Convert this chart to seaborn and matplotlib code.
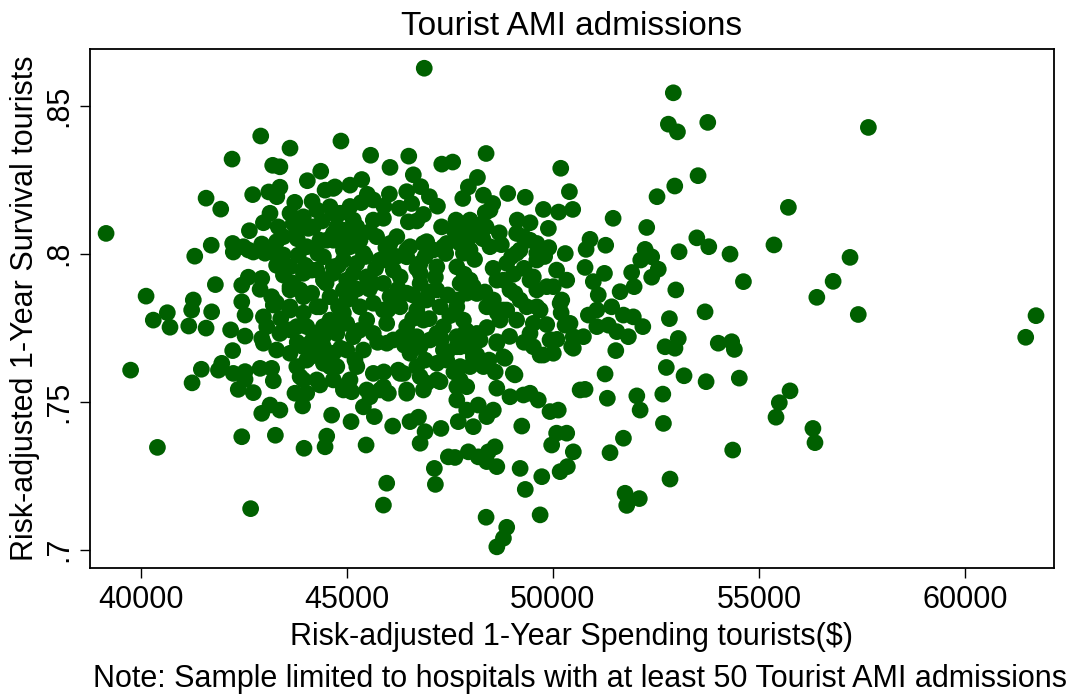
import matplotlib
matplotlib.use("Agg")
import matplotlib.pyplot as plt
import seaborn as sns
import pandas as pd

# Risk-adjusted 1-year spending ($) per hospital
spending = [
    # upper-left cluster
    42915, 43625, 42220, 43205, 43380, 44370, 44045, 44860, 42720, 43110,
    43380, 41590, 41945, 43740, 44160, 44475, 44675, 39165, 42640, 42980,
    43140, 43305, 43625, 43950, 44190, 43790, 43465, 41715, 41315, 42235,
    42250, 42495, 42735, 42940, 43180, 43465, 43300, 43825, 44030, 44350,
    44435, 41815, 40135, 40650, 40310, 41280, 41240, 41725, 42455, 42615,
    42940, 42900, 42455, 42535, 42980, 43260, 43465, 43625, 43950, 44150,
    44435, 43950, 43625, 44350, 44595, 44515, 44760, 44595,
    # lower-left cluster
    40715, 41170, 41590, 39760, 40410, 42670, 41475, 41250, 41970, 41890,
    42235, 42185, 42535, 42940, 42250, 42535, 42535, 42370, 42735, 42900,
    43180, 43220, 42940, 43140, 43380, 42455, 43270, 43745, 43930, 43965,
    44475, 44515, 44635, 44350, 43950, 43300, 42980, 43380, 43625, 44030,
    44110, 44435, 44595, 43790, 44030, 44595, 44675, 43625, 44275, 43300,
    43625, 44350,
    # upper-middle
    46880, 45580, 46505, 46050, 46615, 47305, 47570, 48380, 50190, 50400,
    50480, 50140, 49770, 48905, 49330, 48170, 47950, 47815, 48315, 48540,
    48360, 48155, 48380, 47650, 47790, 48475, 49135, 49445, 49890, 49120,
    49445, 49610, 49120, 48880, 50090, 50335, 49525, 49850, 50215, 49080,
    44715, 45080, 45365, 45350, 45645, 46035, 46455, 46795, 47005, 46575,
    46275, 46860, 46495, 45890, 45565, 45245, 44840, 44920, 46215, 46535,
    46940, 47345, 47750, 47990, 46455, 45890, 45405, 45080, 44675, 44675,
    45160, 45645, 46295, 46780, 47185, 47670, 47990, 48155, 47670, 46940,
    46215, 45645, 45000, 48395, 48800,
    # lower-middle
    48640, 48800, 48880, 48380, 49690, 45890, 45970, 47150, 47125, 49330,
    49730, 49205, 50175, 50350, 50495, 49970, 50090, 50335, 49245, 48640,
    48395, 48595, 48435, 48190, 47950, 47625, 47465, 45470, 45105, 45670,
    46115, 46535, 46740, 46900, 46780, 47285, 47705, 48070, 48190, 48555,
    48395, 47910, 47670, 47185, 46860, 46455, 46010, 46250, 45120, 45405,
    48640, 48960, 49285, 49645, 49930, 50130, 49080, 48840, 48640, 48315,
    48155, 47990, 47750, 47750, 49770, 50010, 49525, 49445, 49970, 50295,
    50455, 50660, 49690, 49365, 50175, 48800, 46375, 46780, 45810, 45565,
    45080, 44760, 45970, 46535, 47020, 47425, 47670, 48155,
    # upper-right
    52920, 52800, 53020, 53755, 53520, 52955, 52525, 55710, 51460, 52275,
    53490, 53780, 54295, 55360, 53060, 52235, 52395, 52130, 52555, 52395,
    51910, 51970, 51630, 51250, 50900, 50805, 51280, 50780, 50980, 51100,
    51425, 52980, 54620, 56400, 53690, 52825, 51950, 51710, 51065, 50860,
    # lower-right
    50415, 50740, 50495, 51345, 51550, 51830, 52180, 51065, 51525, 52720,
    53040, 52960, 54010, 54335, 54400, 52750, 53180, 53715, 54520, 51265,
    50780, 51320, 52035, 52115, 52665, 52680, 55750, 55490, 55410, 56305,
    56355, 51710, 51385, 54360, 52840, 51750, 51790, 52095,
    # far right
    57650, 57205, 56795, 57405, 61715, 61465,
    # dense core, left part
    42615, 43020, 43340, 43705, 44070, 43180, 43220, 43625, 43870, 43950,
    44150, 43790, 43060, 43950, 44435, 44110, 44435, 44675, 44275, 43870,
    44030, 44920, 44435, 44760, 44920, 44920, 44675, 44275, 43625, 44920,
    44675, 44275, 44675,
    # dense core, centre
    45080, 45645, 45160, 45000, 45323, 45725, 46050, 46455, 46860, 47100,
    47425, 47750, 47830, 44920, 45245, 45808, 46130, 46780, 45000, 45485,
    45890, 46780, 47185, 47750, 47910, 45080, 46050, 46455, 46860, 45323,
    45890, 46293, 46700, 47263, 47670, 45000, 45485, 45970, 46455, 46860,
    47345, 47830, 45160, 45645, 46130, 46700, 47185, 47670, 45000, 45405,
    46535, 46780, 47345, 47750, 45245, 45645, 46293, 46700, 47185, 47425,
    44920, 45485, 45890, 46455, 46940, 47263, 47670,
    # dense core, right part
    48475, 48233, 49285, 49610, 49203, 49610, 50010, 49610, 49445, 48960,
    49203, 49610, 48880, 48555, 48070, 48640, 47990, 47830, 47990, 48718,
    49120, 49525, 50495, 49930, 49690, 48640, 48233, 47910, 48070, 48800,
    49040, 49445, 47910,
    # dense core, hidden overlaps
    44300, 44800, 45200, 45450, 45700, 45950, 46200, 46700, 46900, 47150,
    47400, 47600, 47850, 48100, 48300, 48550, 48750, 49000, 49300, 49800,
    44500, 44800, 45250, 45550, 46250, 46600, 47000, 47450, 48350, 48650,
    49050, 44700, 45300, 45750, 46000, 46350, 46600, 47000, 47500, 47900,
    48400, 48950, 49300, 44400, 44850, 45200, 46400, 46900, 47300, 47600,
    48000, 48450, 48600, 45900, 44200, 43800, 43400, 43700, 44000, 43300,
    43800, 44400, 45900, 46700, 47300, 45500, 47200, 48700, 49900, 50300,
    50200, 49850, 50100,
]

# Risk-adjusted 1-year survival per hospital
survival = [
    # upper-left cluster
    0.8397, 0.8356, 0.8319, 0.8298, 0.8293, 0.8278, 0.8246, 0.8380, 0.8199, 0.8208,
    0.8224, 0.8187, 0.8150, 0.8173, 0.8176, 0.8214, 0.8220, 0.8068, 0.8077, 0.8104,
    0.8136, 0.8192, 0.8136, 0.8124, 0.8090, 0.8079, 0.8057, 0.8028, 0.7991, 0.8034,
    0.8005, 0.8023, 0.8005, 0.8032, 0.8006, 0.7995, 0.8040, 0.7995, 0.8023, 0.8045,
    0.7989, 0.7895, 0.7856, 0.7800, 0.7775, 0.7843, 0.7809, 0.7803, 0.7893, 0.7920,
    0.7916, 0.7879, 0.7837, 0.7792, 0.7786, 0.7837, 0.7927, 0.7888, 0.7933, 0.7944,
    0.7910, 0.7854, 0.7820, 0.7820, 0.7854, 0.8045, 0.8090, 0.8158,
    # lower-left cluster
    0.7751, 0.7755, 0.7748, 0.7606, 0.7345, 0.7138, 0.7609, 0.7563, 0.7629, 0.7606,
    0.7672, 0.7742, 0.7721, 0.7713, 0.7595, 0.7601, 0.7575, 0.7541, 0.7530, 0.7612,
    0.7612, 0.7570, 0.7460, 0.7488, 0.7471, 0.7381, 0.7386, 0.7528, 0.7485, 0.7342,
    0.7347, 0.7383, 0.7454, 0.7556, 0.7573, 0.7674, 0.7697, 0.7730, 0.7742, 0.7753,
    0.7697, 0.7719, 0.7775, 0.7618, 0.7640, 0.7618, 0.7573, 0.7809, 0.7820, 0.7832,
    0.7663, 0.7663,
    # upper-middle
    0.8626, 0.8332, 0.8329, 0.8291, 0.8266, 0.8302, 0.8309, 0.8338, 0.8288, 0.8209,
    0.8149, 0.8140, 0.8149, 0.8203, 0.8190, 0.8257, 0.8225, 0.8186, 0.8197, 0.8169,
    0.8138, 0.8096, 0.8090, 0.8113, 0.8079, 0.8023, 0.8113, 0.8104, 0.8085, 0.8068,
    0.8045, 0.8001, 0.8001, 0.7967, 0.7944, 0.7910, 0.7921, 0.7888, 0.7843, 0.7865,
    0.8225, 0.8231, 0.8250, 0.8172, 0.8181, 0.8201, 0.8209, 0.8226, 0.8192, 0.8169,
    0.8153, 0.8132, 0.8107, 0.8119, 0.8074, 0.8090, 0.8136, 0.8079, 0.8057, 0.8023,
    0.8040, 0.8023, 0.8034, 0.8057, 0.7989, 0.7978, 0.8001, 0.8023, 0.8045, 0.7933,
    0.7933, 0.7899, 0.7921, 0.7933, 0.7955, 0.7955, 0.7910, 0.7865, 0.7843, 0.7843,
    0.7832, 0.7832, 0.7843, 0.7820, 0.7910,
    # lower-middle
    0.7009, 0.7038, 0.7075, 0.7109, 0.7117, 0.7150, 0.7224, 0.7220, 0.7274, 0.7203,
    0.7246, 0.7274, 0.7263, 0.7280, 0.7330, 0.7353, 0.7393, 0.7393, 0.7417, 0.7280,
    0.7297, 0.7347, 0.7330, 0.7313, 0.7330, 0.7311, 0.7313, 0.7353, 0.7432, 0.7449,
    0.7417, 0.7432, 0.7447, 0.7398, 0.7359, 0.7409, 0.7432, 0.7415, 0.7488, 0.7471,
    0.7449, 0.7471, 0.7505, 0.7573, 0.7539, 0.7528, 0.7528, 0.7606, 0.7533, 0.7482,
    0.7545, 0.7516, 0.7522, 0.7505, 0.7466, 0.7471, 0.7590, 0.7646, 0.7702, 0.7618,
    0.7657, 0.7618, 0.7573, 0.7618, 0.7657, 0.7663, 0.7685, 0.7730, 0.7708, 0.7758,
    0.7685, 0.7539, 0.7809, 0.7820, 0.7832, 0.7809, 0.7595, 0.7584, 0.7539, 0.7516,
    0.7573, 0.7618, 0.7697, 0.7674, 0.7708, 0.7640, 0.7685, 0.7730,
    # upper-right
    0.8543, 0.8437, 0.8411, 0.8443, 0.8263, 0.8228, 0.8192, 0.8156, 0.8119, 0.8088,
    0.8053, 0.8023, 0.7998, 0.8029, 0.8006, 0.8014, 0.7989, 0.7978, 0.7947, 0.7920,
    0.7936, 0.7888, 0.7871, 0.7933, 0.8048, 0.8014, 0.8028, 0.7953, 0.7905, 0.7860,
    0.7820, 0.7877, 0.7905, 0.7852, 0.7803, 0.7780, 0.7786, 0.7792, 0.7809, 0.7792,
    # lower-right
    0.7764, 0.7719, 0.7680, 0.7758, 0.7736, 0.7719, 0.7753, 0.7753, 0.7672, 0.7685,
    0.7713, 0.7680, 0.7697, 0.7702, 0.7676, 0.7615, 0.7587, 0.7567, 0.7579, 0.7593,
    0.7541, 0.7511, 0.7519, 0.7471, 0.7525, 0.7426, 0.7536, 0.7496, 0.7447, 0.7409,
    0.7361, 0.7376, 0.7327, 0.7336, 0.7238, 0.7190, 0.7149, 0.7172,
    # far right
    0.8426, 0.7987, 0.7906, 0.7794, 0.7790, 0.7717,
    # dense core, left part
    0.8012, 0.8001, 0.8090, 0.8102, 0.8085, 0.7854, 0.7826, 0.7877, 0.7877, 0.7799,
    0.7866, 0.7753, 0.7753, 0.7685, 0.7685, 0.7651, 0.7629, 0.7663, 0.7573, 0.7584,
    0.7528, 0.7539, 0.7753, 0.7730, 0.7799, 0.7877, 0.7955, 0.7944, 0.7955, 0.8012,
    0.8068, 0.8147, 0.8136,
    # dense core, centre
    0.8159, 0.8113, 0.8113, 0.8045, 0.8045, 0.8057, 0.8034, 0.8012, 0.8034, 0.8012,
    0.8034, 0.8057, 0.8001, 0.7978, 0.7967, 0.7978, 0.7944, 0.7967, 0.7910, 0.7921,
    0.7899, 0.7899, 0.7877, 0.7899, 0.7866, 0.7854, 0.7854, 0.7866, 0.7843, 0.7820,
    0.7809, 0.7820, 0.7809, 0.7820, 0.7820, 0.7764, 0.7775, 0.7764, 0.7753, 0.7775,
    0.7753, 0.7775, 0.7719, 0.7730, 0.7708, 0.7719, 0.7730, 0.7719, 0.7674, 0.7674,
    0.7663, 0.7685, 0.7674, 0.7685, 0.7618, 0.7595, 0.7595, 0.7618, 0.7629, 0.7663,
    0.7550, 0.7539, 0.7550, 0.7539, 0.7562, 0.7567, 0.7550,
    # dense core, right part
    0.8147, 0.8090, 0.8057, 0.8034, 0.8012, 0.7978, 0.7888, 0.7877, 0.7910, 0.7877,
    0.7843, 0.7820, 0.7809, 0.7843, 0.7888, 0.7910, 0.8012, 0.8068, 0.8113, 0.7775,
    0.7775, 0.7764, 0.7719, 0.7708, 0.7657, 0.7697, 0.7708, 0.7697, 0.7651, 0.7651,
    0.7595, 0.7528, 0.7550,
    # dense core, hidden overlaps
    0.8000, 0.7960, 0.8080, 0.7990, 0.7950, 0.8020, 0.7990, 0.7950, 0.7990, 0.7920,
    0.8000, 0.8080, 0.7930, 0.7980, 0.8050, 0.7950, 0.8030, 0.7990, 0.7950, 0.7990,
    0.7900, 0.7820, 0.7880, 0.7880, 0.7880, 0.7860, 0.7870, 0.7860, 0.7870, 0.7800,
    0.7930, 0.7760, 0.7740, 0.7700, 0.7810, 0.7720, 0.7780, 0.7780, 0.7790, 0.7740,
    0.7750, 0.7720, 0.7700, 0.7740, 0.7680, 0.7640, 0.7690, 0.7640, 0.7710, 0.7600,
    0.7680, 0.7640, 0.7600, 0.7600, 0.7720, 0.7700, 0.7780, 0.7900, 0.7960, 0.7960,
    0.8050, 0.8110, 0.8160, 0.8110, 0.8090, 0.8200, 0.8160, 0.8070, 0.8020, 0.8000,
    0.7800, 0.7760, 0.7710,
]

x_ticks = [40000, 45000, 50000, 55000, 60000]
x_tick_labels = ["40000", "45000", "50000", "55000", "60000"]
y_ticks = [0.70, 0.75, 0.80, 0.85]
y_tick_labels = [".7", ".75", ".8", ".85"]

title = "Tourist AMI admissions"
x_label = "Risk-adjusted 1-Year Spending tourists($)"
y_label = "Risk-adjusted 1-Year Survival tourists"
note = "Note: Sample limited to hospitals with at least 50 Tourist AMI admissions"

df = pd.DataFrame({"spending": spending, "survival": survival})

sns.set_theme(style="white")
plt.rcParams["font.family"] = ["Liberation Sans", "DejaVu Sans"]

W, H = 1081, 694
fig = plt.figure(figsize=(W / 100, H / 100), dpi=100)
fig.patch.set_facecolor("white")

left, right, top, bottom = 90, 1054, 49, 568
ax = fig.add_axes([left / W, 1 - bottom / H, (right - left) / W, (bottom - top) / H])

sns.scatterplot(data=df, x="spending", y="survival", ax=ax,
                color="#006000", s=145, linewidth=0, edgecolor="none")

ax.set_xlim(38775, 62151)
ax.set_ylim(0.69375, 0.8691)

ax.set_xticks(x_ticks)
ax.set_xticklabels(x_tick_labels)
ax.set_yticks(y_ticks)
ax.set_yticklabels(y_tick_labels, rotation=90, va="center")

for sp in ax.spines.values():
    sp.set_visible(True)
    sp.set_color("black")
    sp.set_linewidth(1.3)

ax.tick_params(axis="both", which="major", direction="out", length=7.3, width=1.0,
               color="black", labelsize=22, labelcolor="black",
               bottom=True, left=True, top=False, right=False)
ax.tick_params(axis="x", pad=5)
ax.tick_params(axis="y", pad=4)

ax.set_xlabel(x_label, fontsize=22, color="black", labelpad=5)
ax.set_ylabel(y_label, fontsize=22, color="black", labelpad=3)
ax.grid(False)

fig.text(572 / W, 1 - 35 / H, title, ha="center", va="baseline", fontsize=24, color="black")
fig.text(93 / W, 1 - 687 / H, note, ha="left", va="baseline", fontsize=22, color="black")

fig.savefig("out.png", dpi=100, facecolor="white")
